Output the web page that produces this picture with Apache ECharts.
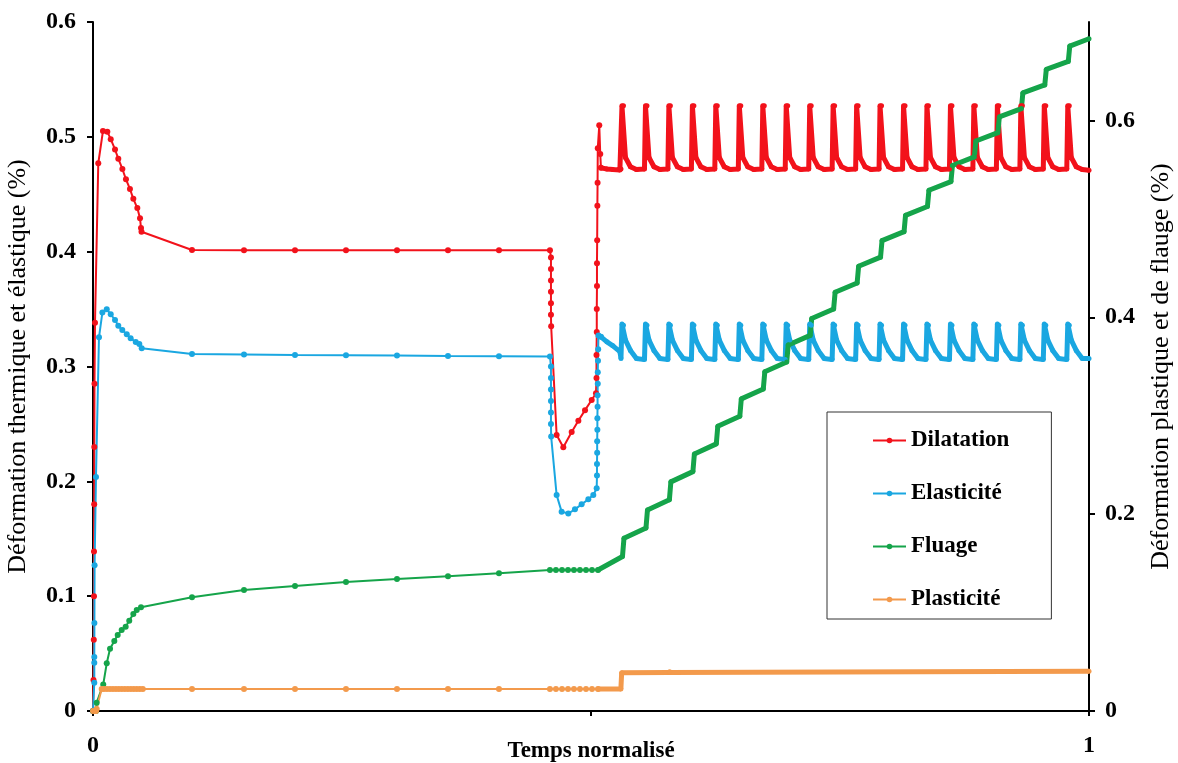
<!DOCTYPE html>
<html>
<head>
<meta charset="utf-8">
<script src="https://cdn.jsdelivr.net/npm/echarts@6/dist/echarts.min.js"></script>
<style>
html,body{margin:0;padding:0;background:#fff;}
#chart{width:1178px;height:763px;}
</style>
</head>
<body>
<div id="chart"></div>
<script>
// ---------- data (t = temps normalisé) ----------
const LEGEND_NAMES = ['Dilatation', 'Elasticité', 'Fluage', 'Plasticité'];
const X_LABELS = ['0', '1'];
const RIGHT_TICKS = [0, 0.2, 0.4, 0.6];

// Dilatation, left axis, start -> jump back up
const RED_MAIN = [
  [0,0],[0.0005,0.027],[0.0008,0.062],[0.001,0.100],[0.001,0.139],[0.0012,0.180],[0.0013,0.230],[0.0015,0.285],[0.002,0.338],
  [0.0053,0.477],[0.0100,0.505],[0.0144,0.5045],[0.0178,0.498],[0.0221,0.489],[0.0254,0.481],[0.0295,0.472],[0.0331,0.463],
  [0.0371,0.4546],[0.0405,0.446],[0.0445,0.438],[0.0472,0.429],[0.0482,0.4206],[0.0487,0.4174],
  [0.0994,0.4015],[0.1516,0.4013],[0.2028,0.4013],[0.2540,0.4013],[0.3052,0.4013],[0.3564,0.4013],[0.4076,0.4013],[0.4588,0.4013],
  [0.4598,0.395],[0.4598,0.385],[0.4598,0.375],[0.4598,0.365],[0.4598,0.355],[0.4598,0.345],[0.4600,0.335],
  [0.4655,0.2404],[0.4722,0.2296],[0.4806,0.243],[0.4873,0.2528],[0.4940,0.262],[0.5007,0.2708],[0.5050,0.2767],
  [0.5055,0.29],[0.5055,0.31],[0.5058,0.33],[0.5058,0.35],[0.5060,0.37],[0.5060,0.39],[0.5062,0.41],[0.5064,0.44],
  [0.5066,0.46],[0.5068,0.49],[0.5083,0.510],[0.5093,0.485],[0.5100,0.473]
];

// Elasticité, left axis, start -> jump back up
const BLUE_MAIN = [
  [0,0],[0.0005,0],[0.0013,0.0246],[0.0013,0.042],[0.0013,0.047],[0.0014,0.0766],[0.0016,0.127],[0.003,0.2038],
  [0.006,0.3254],[0.0094,0.347],[0.0138,0.3498],[0.0178,0.3455],[0.0221,0.3405],[0.0254,0.3355],[0.0294,0.3318],
  [0.0339,0.328],[0.0378,0.3245],[0.0429,0.3213],[0.0465,0.3196],[0.0489,0.3159],
  [0.0994,0.3109],[0.1516,0.3105],[0.2028,0.3100],[0.2540,0.3098],[0.3052,0.3095],[0.3564,0.3092],[0.4076,0.309],[0.4588,0.3088],
  [0.4598,0.300],[0.4598,0.29],[0.4598,0.28],[0.4598,0.27],[0.4598,0.26],[0.4598,0.25],[0.4600,0.239],
  [0.4655,0.188],[0.4705,0.1736],[0.4772,0.172],[0.4839,0.1756],[0.4906,0.180],[0.4973,0.1843],[0.5023,0.188],[0.5057,0.194],
  [0.5060,0.205],[0.5060,0.215],[0.5062,0.225],[0.5062,0.235],[0.5064,0.245],[0.5064,0.255],[0.5066,0.265],[0.5066,0.275],
  [0.5068,0.285],[0.5068,0.295],[0.5070,0.305],[0.5072,0.315],[0.5075,0.327],[0.5100,0.3258]
];

// thermal cycles (shared time points for Dilatation and Elasticité)
const CYCLE_T = [
  0.5100,0.5160,0.5220,0.5290,
  0.5301,0.5311,0.5326,0.5346,0.5396,0.5456,
  0.5537,0.5547,0.5562,0.5582,0.5632,0.5692,
  0.5772,0.5782,0.5797,0.5817,0.5867,0.5927,
  0.6008,0.6018,0.6033,0.6053,0.6103,0.6163,
  0.6243,0.6253,0.6268,0.6288,0.6338,0.6398,
  0.6479,0.6489,0.6504,0.6524,0.6574,0.6634,
  0.6715,0.6725,0.6740,0.6760,0.6810,0.6870,
  0.6950,0.6960,0.6975,0.6995,0.7045,0.7105,
  0.7186,0.7196,0.7211,0.7231,0.7281,0.7341,
  0.7421,0.7431,0.7446,0.7466,0.7516,0.7576,
  0.7657,0.7667,0.7682,0.7702,0.7752,0.7812,
  0.7892,0.7902,0.7917,0.7937,0.7987,0.8047,
  0.8128,0.8138,0.8153,0.8173,0.8223,0.8283,
  0.8363,0.8373,0.8388,0.8408,0.8458,0.8518,
  0.8599,0.8609,0.8624,0.8644,0.8694,0.8754,
  0.8834,0.8844,0.8859,0.8879,0.8929,0.8989,
  0.9070,0.9080,0.9095,0.9115,0.9165,0.9225,
  0.9306,0.9316,0.9331,0.9351,0.9401,0.9461,
  0.9541,0.9551,0.9566,0.9586,0.9636,0.9696,
  0.9777,0.9787,0.9802,0.9822,0.9872,0.9932,
  1.0
];
const RED_CYCLE_V = [
  0.473,0.472,0.4715,0.4712,
  0.472,0.527,0.527,0.482,0.474,0.4715,
  0.472,0.527,0.527,0.482,0.474,0.4715,
  0.472,0.527,0.527,0.482,0.474,0.4715,
  0.472,0.527,0.527,0.482,0.474,0.4715,
  0.472,0.527,0.527,0.482,0.474,0.4715,
  0.472,0.527,0.527,0.482,0.474,0.4715,
  0.472,0.527,0.527,0.482,0.474,0.4715,
  0.472,0.527,0.527,0.482,0.474,0.4715,
  0.472,0.527,0.527,0.482,0.474,0.4715,
  0.472,0.527,0.527,0.482,0.474,0.4715,
  0.472,0.527,0.527,0.482,0.474,0.4715,
  0.472,0.527,0.527,0.482,0.474,0.4715,
  0.472,0.527,0.527,0.482,0.474,0.4715,
  0.472,0.527,0.527,0.482,0.474,0.4715,
  0.472,0.527,0.527,0.482,0.474,0.4715,
  0.472,0.527,0.527,0.482,0.474,0.4715,
  0.472,0.527,0.527,0.482,0.474,0.4715,
  0.472,0.527,0.527,0.482,0.474,0.4715,
  0.472,0.527,0.527,0.482,0.474,0.4715,
  0.472,0.527,0.527,0.482,0.474,0.4715,
  0.471
];
const BLUE_CYCLE_V = [
  0.3258,0.3215,0.318,0.313,
  0.307,0.337,0.336,0.323,0.314,0.307,
  0.306,0.337,0.336,0.323,0.314,0.307,
  0.306,0.337,0.336,0.323,0.314,0.307,
  0.306,0.337,0.336,0.323,0.314,0.307,
  0.306,0.337,0.336,0.323,0.314,0.307,
  0.306,0.337,0.336,0.323,0.314,0.307,
  0.306,0.337,0.336,0.323,0.314,0.307,
  0.306,0.337,0.336,0.323,0.314,0.307,
  0.306,0.337,0.336,0.323,0.314,0.307,
  0.306,0.337,0.336,0.323,0.314,0.307,
  0.306,0.337,0.336,0.323,0.314,0.307,
  0.306,0.337,0.336,0.323,0.314,0.307,
  0.306,0.337,0.336,0.323,0.314,0.307,
  0.306,0.337,0.336,0.323,0.314,0.307,
  0.306,0.337,0.336,0.323,0.314,0.307,
  0.306,0.337,0.336,0.323,0.314,0.307,
  0.306,0.337,0.336,0.323,0.314,0.307,
  0.306,0.337,0.336,0.323,0.314,0.307,
  0.306,0.337,0.336,0.323,0.314,0.307,
  0.306,0.337,0.336,0.323,0.314,0.307,
  0.307
];

// Fluage, right axis
const GREEN_MAIN = [
  [0,0],[0.0030,0],[0.0037,0.0085],[0.0103,0.027],[0.0138,0.0485],[0.0171,0.0633],[0.0214,0.0711],[0.0248,0.0772],
  [0.0288,0.0823],[0.0328,0.0857],[0.0364,0.0918],[0.0405,0.0985],[0.0439,0.1026],[0.0482,0.1053],
  [0.0994,0.1155],[0.1516,0.123],[0.2028,0.127],[0.2540,0.131],[0.3052,0.134],[0.3564,0.137],[0.4076,0.140],
  [0.4588,0.1432],[0.4648,0.1432],[0.4709,0.1432],[0.4769,0.1432],[0.4829,0.1432],[0.4889,0.1432],[0.4950,0.1432],
  [0.5010,0.1432],[0.5070,0.1432]
];
const GREEN_CYCLE = [
  [0.5070,0.1432],
  [0.5316,0.1570],[0.5331,0.1754],
  [0.5552,0.1860],[0.5567,0.2043],
  [0.5787,0.2147],[0.5802,0.2328],
  [0.6023,0.2432],[0.6038,0.2612],
  [0.6258,0.2714],[0.6273,0.2892],
  [0.6494,0.2994],[0.6509,0.3171],
  [0.6730,0.3271],[0.6745,0.3446],
  [0.6965,0.3545],[0.6980,0.3719],
  [0.7201,0.3816],[0.7216,0.3988],
  [0.7436,0.4084],[0.7451,0.4255],
  [0.7672,0.4349],[0.7687,0.4518],
  [0.7907,0.4611],[0.7922,0.4779],
  [0.8143,0.4870],[0.8158,0.5036],
  [0.8378,0.5126],[0.8393,0.5291],
  [0.8614,0.5379],[0.8629,0.5542],
  [0.8849,0.5629],[0.8864,0.5791],
  [0.9085,0.5876],[0.9100,0.6036],
  [0.9321,0.6120],[0.9336,0.6279],
  [0.9556,0.6361],[0.9571,0.6518],
  [0.9792,0.6599],[0.9807,0.6755],
  [1.0,0.683]
];

// Plasticité, right axis
const ORANGE_MAIN = [
  [0,0],[0.001,0],[0.002,0],[0.003,0],[0.0037,0.002],[0.0087,0.0224],
  [0.011,0.0224],[0.014,0.0224],[0.017,0.0224],[0.020,0.0224],[0.023,0.0224],[0.026,0.0224],[0.029,0.0224],
  [0.032,0.0224],[0.035,0.0224],[0.038,0.0224],[0.041,0.0224],[0.044,0.0224],[0.047,0.0224],[0.050,0.0224],
  [0.0994,0.0224],[0.1516,0.0224],[0.2028,0.0224],[0.2540,0.0224],[0.3052,0.0224],[0.3564,0.0224],[0.4076,0.0224],
  [0.4588,0.0224],[0.4648,0.0224],[0.4709,0.0224],[0.4769,0.0224],[0.4829,0.0224],[0.4889,0.0224],[0.4950,0.0224],
  [0.5010,0.0224],[0.5070,0.0224]
];
const ORANGE_CYCLE = [
  [0.5070,0.0224],[0.5300,0.0224],[0.5308,0.0389],[0.5780,0.0392],[0.5790,0.0400],[1.0,0.0405]
];

// ---------- chart ----------
const FONT = '"Liberation Serif", "Times New Roman", serif';
const COLORS = { red: '#f2121b', blue: '#1aa7e1', green: '#15a44a', orange: '#f39a4c' };

function zip(ts, vs) { return ts.map((t, i) => [t, vs[i]]); }

function mainSeries(name, color, data, yIdx) {
  return {
    name, type: 'line', data, yAxisIndex: yIdx,
    color, symbol: 'circle', symbolSize: 6, showAllSymbol: true,
    lineStyle: { color, width: 2 }, itemStyle: { color },
    emphasis: { disabled: true }, animation: false
  };
}
function cycleSeries(name, color, data, yIdx) {
  return {
    name, type: 'line', data, yAxisIndex: yIdx,
    color, symbol: 'circle', symbolSize: 5, showAllSymbol: true,
    lineStyle: { color, width: 5 }, itemStyle: { color },
    emphasis: { disabled: true }, animation: false
  };
}

const chart = echarts.init(document.getElementById('chart'));
const axisLine = { show: true, lineStyle: { color: '#000', width: 2 } };
const labelStyle = { fontFamily: FONT, fontSize: 24, fontWeight: 'bold', color: '#000' };

chart.setOption({
  animation: false,
  backgroundColor: '#fff',
  grid: { left: 93, right: 89, top: 22, bottom: 52, containLabel: false, outerBoundsMode: 'none' },
  legend: {
    orient: 'vertical', left: 827, top: 412,
    padding: [17, 42, 8, 45], itemGap: 30, itemWidth: 33, itemHeight: 7,
    borderColor: '#333', borderWidth: 1, backgroundColor: '#fff',
    textStyle: { fontFamily: FONT, fontSize: 23, fontWeight: 'bold', color: '#000', lineHeight: 22 },
    data: LEGEND_NAMES
  },
  xAxis: {
    type: 'value', min: 0, max: 1, interval: 0.5,
    name: 'Temps normalisé', nameLocation: 'middle', nameGap: 29, nameMoveOverlap: false,
    nameTextStyle: { fontFamily: FONT, fontSize: 23, fontWeight: 'bold', color: '#000' },
    axisLine, axisTick: { show: true, length: 5, lineStyle: { color: '#000', width: 2 } },
    axisLabel: Object.assign({ margin: 23, formatter: v => (v === 0 ? X_LABELS[0] : (v === 1 ? X_LABELS[1] : '')) }, labelStyle),
    splitLine: { show: false }
  },
  yAxis: [
    {
      type: 'value', min: 0, max: 0.6, interval: 0.1, position: 'left',
      name: 'Déformation thermique et élastique (%)', nameLocation: 'middle', nameGap: 62, nameRotate: 90,
      nameMoveOverlap: false,
      nameTextStyle: { fontFamily: FONT, fontSize: 26, color: '#000' },
      axisLine, axisTick: { show: true, length: 6, lineStyle: { color: '#000', width: 2 } },
      axisLabel: Object.assign({ margin: 17 }, labelStyle),
      splitLine: { show: false }
    },
    {
      type: 'value', min: 0, max: 0.7, interval: 0.2, position: 'right',
      name: 'Déformation plastique et de flauge (%)', nameLocation: 'middle', nameGap: 59, nameRotate: 90,
      nameMoveOverlap: false,
      nameTextStyle: { fontFamily: FONT, fontSize: 26, color: '#000' },
      axisLine, axisTick: { show: true, length: 6, customValues: RIGHT_TICKS, lineStyle: { color: '#000', width: 2 } },
      axisLabel: Object.assign({ margin: 16, customValues: RIGHT_TICKS }, labelStyle),
      splitLine: { show: false }
    }
  ],
  series: [
    mainSeries('Dilatation', COLORS.red, RED_MAIN, 0),
    cycleSeries('Dilatation', COLORS.red, zip(CYCLE_T, RED_CYCLE_V), 0),
    mainSeries('Elasticité', COLORS.blue, BLUE_MAIN, 0),
    cycleSeries('Elasticité', COLORS.blue, zip(CYCLE_T, BLUE_CYCLE_V), 0),
    mainSeries('Fluage', COLORS.green, GREEN_MAIN, 1),
    cycleSeries('Fluage', COLORS.green, GREEN_CYCLE, 1),
    mainSeries('Plasticité', COLORS.orange, ORANGE_MAIN, 1),
    cycleSeries('Plasticité', COLORS.orange, ORANGE_CYCLE, 1)
  ]
});
</script>
</body>
</html>
